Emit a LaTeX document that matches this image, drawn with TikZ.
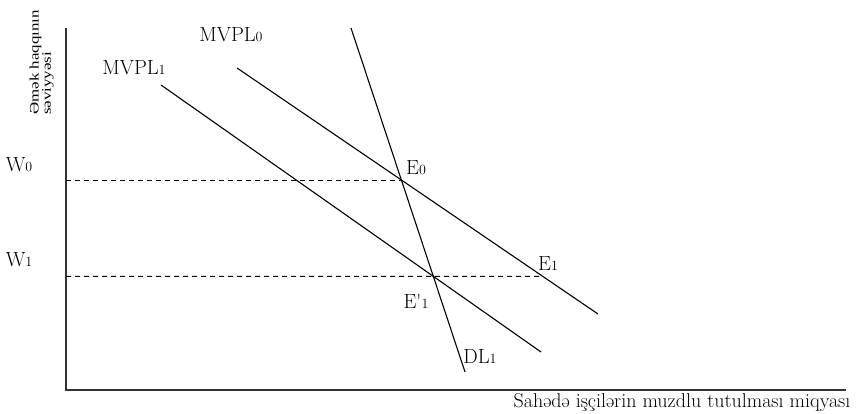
\documentclass[tikz,border=0pt]{standalone}
\usepackage{fontspec}
\newfontfamily\ylabfont{Liberation Serif}
\usetikzlibrary{intersections}
\tikzset{
  curve/.style={line width=1.1pt, black},
  axisline/.style={line width=1.6pt, black!80},
  guide/.style={line width=0.9pt, dash pattern=on 5pt off 4pt},
  lbl/.style={font=\fontsize{20.5}{20.5}\selectfont, inner sep=0pt},
}
\newcommand{\sbs}[1]{{\fontsize{14}{14}\selectfont #1}}
\begin{document}
\begin{tikzpicture}[x=1pt,y=-1pt]
\useasboundingbox (0,0) rectangle (856,414);
% axes
\coordinate (O) at (66,390);
\coordinate (Ytop) at (66,28);
\coordinate (Xend) at (846,390);
\draw[axisline] (Ytop) -- (O) -- (Xend);
% curves
\coordinate (M0a) at (237,68);
\coordinate (M0b) at (598,314);
\coordinate (M1a) at (161,85);
\coordinate (M1b) at (541,352);
\coordinate (Da) at (351,28);
\coordinate (Db) at (465,372);
\draw[curve, name path=m0] (M0a) -- (M0b);
\draw[curve, name path=m1] (M1a) -- (M1b);
\draw[curve, name path=dl] (Da) -- (Db);
\path[name intersections={of=m0 and dl, by=E0}];
\path[name intersections={of=m1 and dl, by=E1p}];
\path[name path=w1line] (0,0 |- E1p) -- (856,0 |- E1p);
\path[name intersections={of=m0 and w1line, by=E1}];
\coordinate (W0pt) at (O |- E0);
\coordinate (W1pt) at (O |- E1p);
\draw[guide] (W0pt) -- (E0);
\draw[guide] (W1pt) -- (E1);
% labels
\node[lbl] (w0) at (19,165) {W\sbs{0}};
\node[lbl] (w1) at (19,260) {W\sbs{1}};
\node[lbl] (mvpl0) at (231,35) {MVPL\sbs{0}};
\node[lbl] (mvpl1) at (134,68) {MVPL\sbs{1}};
\node[lbl] (e0) at (416,168) {E\sbs{0}};
\node[lbl] (e1) at (548,264) {E\sbs{1}};
\node[lbl] (e1p) at (416,301) {E\textquotesingle\sbs{1}};
\node[lbl] (dl1) at (480,356) {DL\sbs{1}};
\node[inner sep=0pt, font=\fontsize{20}{20}\selectfont] (xlab) at (682,403) {Sahədə işçilərin muzdlu tutulması miqyası};
\node[inner sep=0pt, rotate=90, anchor=south west, align=left, font=\ylabfont\fontsize{13}{11}\selectfont] (ylab) at (54,115) {\scalebox{1.3}[1]{Əmək haqqının}\\\scalebox{1.3}[1]{səviyyəsi}};
\end{tikzpicture}
\end{document}
